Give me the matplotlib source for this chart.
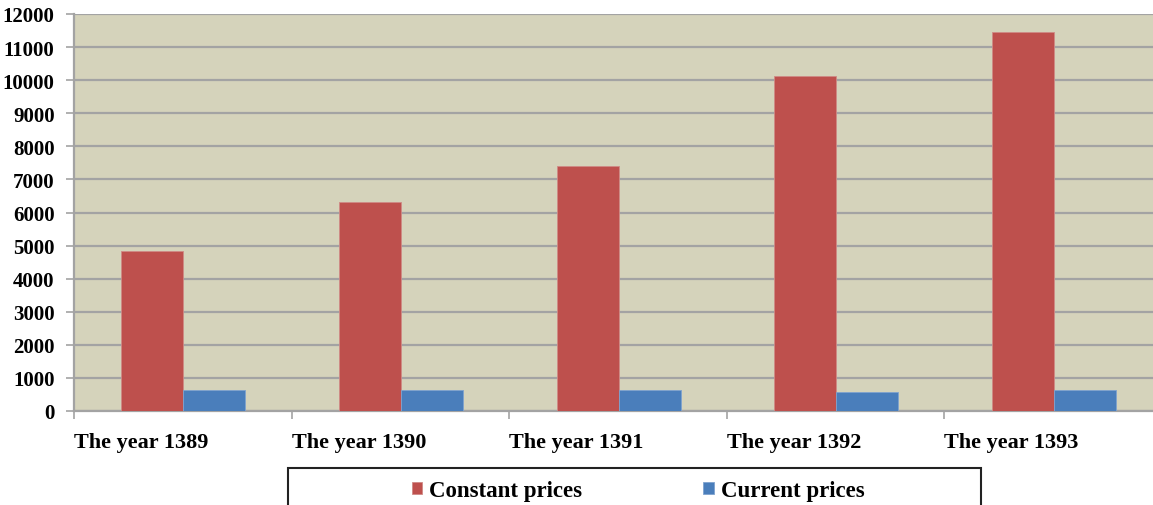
import numpy as np
import matplotlib.pyplot as plt
from matplotlib.patches import Rectangle

years = ["The year 1389", "The year 1390", "The year 1391", "The year 1392", "The year 1393"]
constant_prices = [4850, 6320, 7400, 10120, 11470]
current_prices = [635, 640, 625, 565, 640]

red = "#BE504D"
blue = "#4A7EBB"
grid_c = "#A3A3A3"

plt.rcParams['font.family'] = ['Liberation Serif', 'DejaVu Serif']
plt.rcParams['font.weight'] = 'bold'

W, H = 1153, 506
fig = plt.figure(figsize=(W/100, H/100), dpi=100)
ax = fig.add_axes([74/W, 1-412/H, (1162-74)/W, (412-15)/H])
ax.set_facecolor("#D5D3BB")

x = np.arange(len(years))
w = 0.285
b1 = ax.bar(x - 0.14, constant_prices, w, color=red, edgecolor="#D08A86", linewidth=0.6,
            label="Constant prices", zorder=3)
b2 = ax.bar(x + 0.145, current_prices, w, color=blue, edgecolor="#7FA3CF", linewidth=0.6,
            label="Current prices", zorder=3)

ax.set_xlim(-0.5, len(years) - 0.5)
ax.set_ylim(0, 12000)
ax.set_yticks(np.arange(0, 12001, 1000))
ax.yaxis.grid(True, color=grid_c, linewidth=1.6, zorder=1)
ax.set_axisbelow(True)

ax.set_xticks(np.arange(len(years) + 1) - 0.5)
ax.set_xticklabels(years + [""], ha='left', fontsize=16, fontweight='bold')
ax.tick_params(axis='x', length=6, width=1.2, color=grid_c, pad=9)
ax.tick_params(axis='y', length=6, width=1.2, color=grid_c, pad=8, labelsize=15)
for lbl in ax.get_yticklabels():
    lbl.set_fontweight('bold')

for s in ['top', 'right']:
    ax.spines[s].set_visible(False)
for s in ['left', 'bottom']:
    ax.spines[s].set_color(grid_c)
    ax.spines[s].set_linewidth(1.6)

# legend box, cut off at the bottom of the picture
fig.patches.append(Rectangle((288/W, -0.1), (981-288)/W, 0.1 + 1-469/H,
                             transform=fig.transFigure, fill=False,
                             edgecolor="#222222", linewidth=1.5))
fig.legend(handles=[b1, b2], loc='center', bbox_to_anchor=(638/W, 1-492/H),
           ncol=2, frameon=False, fontsize=16.5, handlelength=0.45, handleheight=0.45,
           handletextpad=0.3, columnspacing=5.3, borderpad=0)

fig.savefig("out.png", dpi=100)
